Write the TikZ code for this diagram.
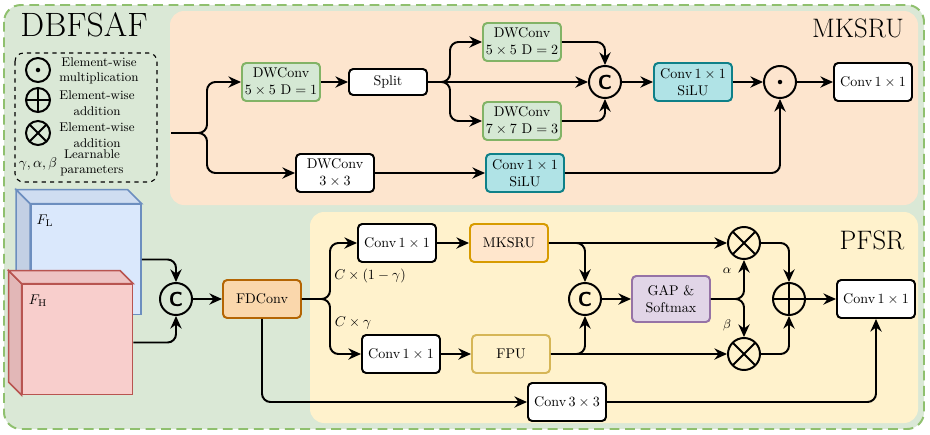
\documentclass[tikz,border=0pt]{standalone}
\usepackage{tikz}
\usetikzlibrary{arrows.meta,calc,positioning}

\definecolor{bggreen}{HTML}{DAE8D6}
\definecolor{bgline}{HTML}{8FC06E}
\definecolor{mkfill}{HTML}{FDE5CE}
\definecolor{pffill}{HTML}{FFF2CC}
\definecolor{grnfill}{HTML}{D5E8D4}
\definecolor{grnline}{HTML}{82B366}
\definecolor{tealfill}{HTML}{B0E3E6}
\definecolor{tealline}{HTML}{0E8088}
\definecolor{gapfill}{HTML}{E1D5E7}
\definecolor{gapline}{HTML}{9673A6}
\definecolor{mksfill}{HTML}{FFE6CC}
\definecolor{mksline}{HTML}{D79B00}
\definecolor{fpufill}{HTML}{FFF2CC}
\definecolor{fpuline}{HTML}{D6B656}
\definecolor{fdfill}{HTML}{FAD7AC}
\definecolor{fdline}{HTML}{B46504}
\definecolor{bluefill}{HTML}{DAE8FC}
\definecolor{blueside}{HTML}{C3D0E4}
\definecolor{bluetop}{HTML}{CFDDF1}
\definecolor{blueline}{HTML}{6C8EBF}
\definecolor{redfill}{HTML}{F8CECC}
\definecolor{redside}{HTML}{E2B7B7}
\definecolor{redtop}{HTML}{EEC3C3}
\definecolor{redline}{HTML}{B85450}

\tikzset{
  box/.style={draw, fill=white, rounded corners=3pt, line width=1.4pt,
    minimum width=1.95cm, minimum height=0.95cm, align=center, inner sep=1pt},
  greenbox/.style={box, draw=grnline, fill=grnfill},
  tealbox/.style={box, draw=tealline, fill=tealfill},
  op/.style={draw, circle, line width=1.4pt, minimum size=0.8cm, inner sep=0pt},
  catop/.style={op, font=\sffamily\bfseries\Large},
  mulop/.style={op, path picture={\fill (path picture bounding box.center) circle (1.6pt);}},
  crossop/.style={op, path picture={
    \draw[line width=1.4pt] (path picture bounding box.south west) -- (path picture bounding box.north east)
      (path picture bounding box.north west) -- (path picture bounding box.south east);}},
  plusop/.style={op, path picture={
    \draw[line width=1.4pt] (path picture bounding box.south) -- (path picture bounding box.north)
      (path picture bounding box.west) -- (path picture bounding box.east);}},
  small/.style={minimum size=0.6cm},
  cube/.style={draw, line width=1.1pt, minimum width=2.75cm, minimum height=2.75cm},
  link/.style={line width=1.4pt, rounded corners=6pt, -{Stealth[length=9pt,width=8pt,inset=3pt]}},
  legtext/.style={font=\small, align=center, inner sep=0pt},
}

\begin{document}
\begin{tikzpicture}[x=0.025cm,y=-0.025cm]
\useasboundingbox (0,0) rectangle (930,435);

% regions
\draw[bgline, fill=bggreen, line width=1.4pt, dash pattern=on 7pt off 4pt, rounded corners=12pt]
  (4,5) rectangle (924,429);
\fill[mkfill, rounded corners=10pt] (170,11) rectangle (918,205);
\fill[pffill, rounded corners=10pt] (310,212) rectangle (918,423);

\node[anchor=base, font=\fontsize{24}{28}\selectfont] (title) at (84,36) {DBFSAF};
\node[anchor=base, font=\fontsize{19}{23}\selectfont] (mktitle) at (858,37) {MKSRU};
\node[anchor=base, font=\fontsize{19}{23}\selectfont] (pftitle) at (872,249) {PFSR};

% legend
\draw[dashed, line width=0.8pt, rounded corners=6pt] (15,53) rectangle (157,182);
\node[mulop, small] (lgmul) at (38,70) {};
\node[legtext] at (99,71) {Element-wise\\multiplication};
\node[plusop, small] (lgadd) at (38,100) {};
\node[legtext] at (97,103) {Element-wise\\addition};
\node[crossop, small] (lgcross) at (38,133) {};
\node[legtext] at (97,135) {Element-wise\\addition};
\node[inner sep=0pt] (lgpar) at (38,164) {$\gamma,\alpha,\beta$};
\node[legtext] at (92,163) {Learnable\\parameters};

% MKSRU
\coordinate (mkin) at (171,133);
\node[greenbox] (dwa) at (281,82) {DWConv\\$5\times5$ $\mathrm{D}=1$};
\node[box, minimum height=0.65cm] (split) at (388,82) {Split};
\node[greenbox] (dwb) at (522,42) {DWConv\\$5\times5$ $\mathrm{D}=2$};
\node[greenbox] (dwc) at (522,121) {DWConv\\$7\times7$ $\mathrm{D}=3$};
\node[catop] (cata) at (605,82) {C};
\node[tealbox] (silua) at (693,82) {Conv\,$1\times1$\\SiLU};
\node[mulop] (mul) at (780,82) {};
\node[box] (outa) at (873,82) {Conv\,$1\times1$};
\node[box] (dwd) at (335,173) {DWConv\\$3\times3$};
\node[tealbox] (silub) at (525,173) {Conv\,$1\times1$\\SiLU};

\draw[link] (mkin) -- (207,133) |- (dwa);
\draw[link] (mkin) -- (207,133) |- (dwd);
\draw[link] (dwa) -- (split);
\draw[link] (split) -- (cata);
\draw[link] (split.east) -- (450,82) |- (dwb);
\draw[link] (split.east) -- (450,82) |- (dwc);
\draw[link] (dwb) -| (cata);
\draw[link] (dwc) -| (cata);
\draw[link] (cata) -- (silua);
\draw[link] (silua) -- (mul);
\draw[link] (mul) -- (outa);
\draw[link] (dwd) -- (silub);
\draw[link] (silub) -| (mul);

% inputs
\node[cube, draw=blueline, fill=bluefill] (fl) at (86,259.5) {};
\draw[line width=1.1pt, draw=blueline, fill=blueside] (fl.north west) -- ++(-14,-14)
  -- ($(fl.south west)+(-14,-14)$) -- (fl.south west) -- cycle;
\draw[line width=1.1pt, draw=blueline, fill=bluetop] (fl.north west) -- ++(-14,-14)
  -- ($(fl.north east)+(-14,-14)$) -- (fl.north east) -- cycle;
\node (fllab) at (45,221) {$F_{\mathrm{L}}$};

\node[cube, draw=redline, fill=redfill] (fh) at (77.5,339.5) {};
\draw[line width=1.1pt, draw=redline, fill=redside] (fh.north west) -- ++(-13,-13)
  -- ($(fh.south west)+(-13,-13)$) -- (fh.south west) -- cycle;
\draw[line width=1.1pt, draw=redline, fill=redtop] (fh.north west) -- ++(-13,-13)
  -- ($(fh.north east)+(-13,-13)$) -- (fh.north east) -- cycle;
\node (fhlab) at (38,301) {$F_{\mathrm{H}}$};

\node[catop] (catm) at (176,299) {C};
\node[box, draw=fdline, fill=fdfill] (fdc) at (262,299) {FDConv};

\draw[link] (fl.east) -| (catm);
\draw[link] ($(fh.east)+(0,3)$) -| (catm);
\draw[link] (catm) -- (fdc);

% PFSR
\node[box] (cva) at (397,243) {Conv\,$1\times1$};
\node[box, draw=mksline, fill=mksfill] (mks) at (509,243) {MKSRU};
\node[box] (cvb) at (401,354) {Conv\,$1\times1$};
\node[box, draw=fpuline, fill=fpufill] (fpu) at (511,354) {FPU};
\node[catop] (catp) at (585,299) {C};
\node[box, draw=gapline, fill=gapfill, minimum height=1.15cm] (gap) at (671,299) {GAP \&\\Softmax};
\node[crossop] (mula) at (744,243) {};
\node[crossop] (mulb) at (744,354) {};
\node[plusop] (add) at (789,299) {};
\node[box] (outp) at (876,299) {Conv\,$1\times1$};
\node[box] (cvc) at (567,402) {Conv\,$3\times3$};

\draw[link] (fdc) -- (330,299) |- (cva);
\draw[link] (fdc) -- (330,299) |- (cvb);
\node (lga) at (370,276) {$C\times(1-\gamma)$};
\node (lgb) at (353,323) {$C\times\gamma$};
\draw[link] (cva) -- (mks);
\draw[link] (cvb) -- (fpu);
\draw[link] (mks) -- (mula);
\draw[link] (mks.east) -| (catp);
\draw[link] (fpu) -- (mulb);
\draw[link] (fpu.east) -| (catp);
\draw[link] (catp) -- (gap);
\draw[link] (gap.east) -| (mula);
\draw[link] (gap.east) -| (mulb);
\node[font=\small] (alab) at (727,271) {$\alpha$};
\node[font=\small] (blab) at (727,325) {$\beta$};
\draw[link] (mula) -| (add);
\draw[link] (mulb) -| (add);
\draw[link] (add) -- (outp);
\draw[link] (fdc) |- (cvc);
\draw[link] (cvc) -| (outp);
\end{tikzpicture}
\end{document}
